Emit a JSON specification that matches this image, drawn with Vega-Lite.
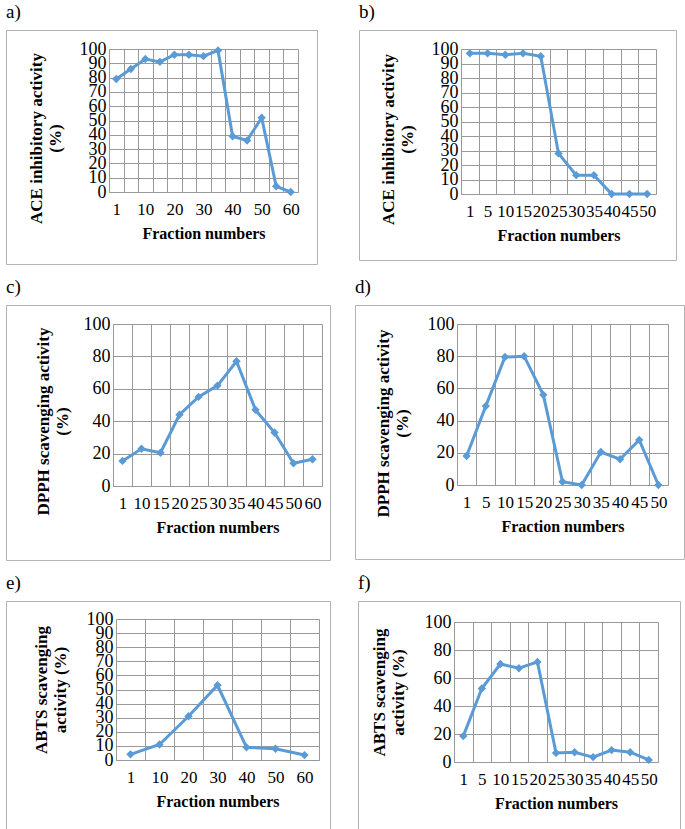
{
  "$schema": "https://vega.github.io/schema/vega-lite/v6.json",
  "padding": {"left": 5, "top": 2, "right": 0, "bottom": 0},
  "background": "white",
  "spacing": 12,
  "vconcat": [
    {
      "hconcat": [
        {
          "width": 311, "height": 234,
          "title": {"text": "a)"},
          "data": {"values": [
            {"f": "1", "v": 79}, {"f": "5", "v": 86}, {"f": "10", "v": 93}, {"f": "15", "v": 91},
            {"f": "20", "v": 96}, {"f": "25", "v": 96}, {"f": "30", "v": 95}, {"f": "35", "v": 99},
            {"f": "40", "v": 39}, {"f": "45", "v": 36}, {"f": "50", "v": 52}, {"f": "55", "v": 4}, {"f": "60", "v": 0}
          ]},
          "encoding": {
            "y": {"field": "v", "type": "quantitative",
              "scale": {"domain": [0, 100], "range": [162, 19], "nice": false},
              "axis": {"title": ["ACE inhibitory activity", "(%)"], "offset": -103, "titleY": 108,
                "values": [0, 10, 20, 30, 40, 50, 60, 70, 80, 90, 100]}}
          },
          "layer": [
            {"mark": {"type": "line", "color": "#5B9BD5", "strokeWidth": 3},
             "encoding": {"x": {"field": "f", "type": "ordinal", "sort": null,
              "scale": {"type": "band", "range": [103, 292], "paddingInner": 0, "paddingOuter": 0},
              "axis": {"title": "Fraction numbers", "offset": -72, "grid": false,
                "labelExpr": "indexof(['1','10','20','30','40','50','60'], datum.label) >= 0 ? datum.label : ''"}}}},
            {"mark": {"type": "point", "shape": "diamond", "filled": true, "color": "#5B9BD5", "size": 70, "opacity": 1},
             "encoding": {"x": {"field": "f", "type": "ordinal", "sort": null,
              "axis": {"orient": "top", "grid": true, "labels": false, "domain": false, "title": null, "offset": 0}}}}
          ],
          "resolve": {"axis": {"x": "independent"}}
        },
        {
          "width": 317, "height": 230,
          "title": {"text": "b)"},
          "data": {"values": [
            {"f": "1", "v": 97}, {"f": "5", "v": 97}, {"f": "10", "v": 96}, {"f": "15", "v": 97},
            {"f": "20", "v": 95}, {"f": "25", "v": 28}, {"f": "30", "v": 13}, {"f": "35", "v": 13},
            {"f": "40", "v": 0}, {"f": "45", "v": 0}, {"f": "50", "v": 0}
          ]},
          "encoding": {
            "y": {"field": "v", "type": "quantitative",
              "scale": {"domain": [0, 100], "range": [164, 19], "nice": false},
              "axis": {"title": ["ACE inhibitory activity", "(%)"], "offset": -102, "titleY": 109,
                "values": [0, 10, 20, 30, 40, 50, 60, 70, 80, 90, 100]}}
          },
          "layer": [
            {"mark": {"type": "line", "color": "#5B9BD5", "strokeWidth": 3},
             "encoding": {"x": {"field": "f", "type": "ordinal", "sort": null,
              "scale": {"type": "band", "range": [102, 297], "paddingInner": 0, "paddingOuter": 0},
              "axis": {"title": "Fraction numbers", "offset": -66, "grid": false}}}},
            {"mark": {"type": "point", "shape": "diamond", "filled": true, "color": "#5B9BD5", "size": 70, "opacity": 1},
             "encoding": {"x": {"field": "f", "type": "ordinal", "sort": null,
              "axis": {"orient": "top", "grid": true, "labels": false, "domain": false, "title": null, "offset": 0}}}}
          ],
          "resolve": {"axis": {"x": "independent"}}
        }
      ],
      "spacing": 40
    },
    {
      "hconcat": [
        {
          "width": 324, "height": 255,
          "title": {"text": "c)"},
          "data": {"values": [
            {"f": "1", "v": 15.5}, {"f": "10", "v": 23}, {"f": "15", "v": 20.5}, {"f": "20", "v": 44},
            {"f": "25", "v": 55}, {"f": "30", "v": 62}, {"f": "35", "v": 77}, {"f": "40", "v": 47},
            {"f": "45", "v": 33}, {"f": "50", "v": 14}, {"f": "60", "v": 16.5}
          ]},
          "encoding": {
            "y": {"field": "v", "type": "quantitative",
              "scale": {"domain": [0, 100], "range": [181, 19], "nice": false},
              "axis": {"title": ["DPPH scavenging activity", "(%)"], "offset": -107, "titleY": 116, "titlePadding": 12,
                "values": [0, 20, 40, 60, 80, 100]}}
          },
          "layer": [
            {"mark": {"type": "line", "color": "#5B9BD5", "strokeWidth": 3},
             "encoding": {"x": {"field": "f", "type": "ordinal", "sort": null,
              "scale": {"type": "band", "range": [107, 316], "paddingInner": 0, "paddingOuter": 0},
              "axis": {"title": "Fraction numbers", "offset": -74, "grid": false}}}},
            {"mark": {"type": "point", "shape": "diamond", "filled": true, "color": "#5B9BD5", "size": 70, "opacity": 1},
             "encoding": {"x": {"field": "f", "type": "ordinal", "sort": null,
              "axis": {"orient": "top", "grid": true, "labels": false, "domain": false, "title": null, "offset": 0}}}}
          ],
          "resolve": {"axis": {"x": "independent"}}
        },
        {
          "width": 329, "height": 254,
          "title": {"text": "d)"},
          "data": {"values": [
            {"f": "1", "v": 18}, {"f": "5", "v": 49}, {"f": "10", "v": 79.5}, {"f": "15", "v": 80},
            {"f": "20", "v": 56}, {"f": "25", "v": 2}, {"f": "30", "v": 0}, {"f": "35", "v": 20.5},
            {"f": "40", "v": 16}, {"f": "45", "v": 28}, {"f": "50", "v": 0}
          ]},
          "encoding": {
            "y": {"field": "v", "type": "quantitative",
              "scale": {"domain": [0, 100], "range": [180, 19], "nice": false},
              "axis": {"title": ["DPPH scavenging activity", "(%)"], "offset": -102, "titleY": 118, "titlePadding": 16,
                "values": [0, 20, 40, 60, 80, 100]}}
          },
          "layer": [
            {"mark": {"type": "line", "color": "#5B9BD5", "strokeWidth": 3},
             "encoding": {"x": {"field": "f", "type": "ordinal", "sort": null,
              "scale": {"type": "band", "range": [102, 313], "paddingInner": 0, "paddingOuter": 0},
              "axis": {"title": "Fraction numbers", "offset": -74, "grid": false}}}},
            {"mark": {"type": "point", "shape": "diamond", "filled": true, "color": "#5B9BD5", "size": 70, "opacity": 1},
             "encoding": {"x": {"field": "f", "type": "ordinal", "sort": null,
              "axis": {"orient": "top", "grid": true, "labels": false, "domain": false, "title": null, "offset": 0}}}}
          ],
          "resolve": {"axis": {"x": "independent"}}
        }
      ],
      "spacing": 23
    },
    {
      "hconcat": [
        {
          "width": 324, "height": 231,
          "title": {"text": "e)"},
          "data": {"values": [
            {"f": "1", "v": 4}, {"f": "10", "v": 11}, {"f": "20", "v": 31}, {"f": "30", "v": 53},
            {"f": "40", "v": 9}, {"f": "50", "v": 8}, {"f": "60", "v": 3.5}
          ]},
          "encoding": {
            "y": {"field": "v", "type": "quantitative",
              "scale": {"domain": [0, 100], "range": [159, 18], "nice": false},
              "axis": {"title": ["ABTS scavenging", "activity (%)"], "offset": -110, "titlePadding": 17,
                "values": [0, 10, 20, 30, 40, 50, 60, 70, 80, 90, 100]}}
          },
          "layer": [
            {"mark": {"type": "line", "color": "#5B9BD5", "strokeWidth": 3},
             "encoding": {"x": {"field": "f", "type": "ordinal", "sort": null,
              "scale": {"type": "band", "range": [110, 313], "paddingInner": 0, "paddingOuter": 0},
              "axis": {"title": "Fraction numbers", "offset": -72, "grid": false}}}},
            {"mark": {"type": "point", "shape": "diamond", "filled": true, "color": "#5B9BD5", "size": 70, "opacity": 1},
             "encoding": {"x": {"field": "f", "type": "ordinal", "sort": null,
              "axis": {"orient": "top", "grid": true, "labels": false, "domain": false, "title": null, "offset": 0}}}}
          ],
          "resolve": {"axis": {"x": "independent"}}
        },
        {
          "width": 322, "height": 230,
          "title": {"text": "f)"},
          "data": {"values": [
            {"f": "1", "v": 18.5}, {"f": "5", "v": 52.5}, {"f": "10", "v": 70}, {"f": "15", "v": 67},
            {"f": "20", "v": 71.5}, {"f": "25", "v": 6.5}, {"f": "30", "v": 7}, {"f": "35", "v": 3.5},
            {"f": "40", "v": 8.5}, {"f": "45", "v": 7}, {"f": "50", "v": 1.5}
          ]},
          "encoding": {
            "y": {"field": "v", "type": "quantitative",
              "scale": {"domain": [0, 100], "range": [161, 21], "nice": false},
              "axis": {"title": ["ABTS scavenging", "activity (%)"], "offset": -96, "titlePadding": 17,
                "values": [0, 20, 40, 60, 80, 100]}}
          },
          "layer": [
            {"mark": {"type": "line", "color": "#5B9BD5", "strokeWidth": 3},
             "encoding": {"x": {"field": "f", "type": "ordinal", "sort": null,
              "scale": {"type": "band", "range": [96, 300], "paddingInner": 0, "paddingOuter": 0},
              "axis": {"title": "Fraction numbers", "offset": -69, "grid": false}}}},
            {"mark": {"type": "point", "shape": "diamond", "filled": true, "color": "#5B9BD5", "size": 70, "opacity": 1},
             "encoding": {"x": {"field": "f", "type": "ordinal", "sort": null,
              "axis": {"orient": "top", "grid": true, "labels": false, "domain": false, "title": null, "offset": 0}}}}
          ],
          "resolve": {"axis": {"x": "independent"}}
        }
      ],
      "spacing": 26
    }
  ],
  "config": {
    "view": {"stroke": "#b3b3b3", "strokeWidth": 1, "fill": "white"},
    "title": {"font": "Liberation Serif", "fontSize": 19, "fontWeight": "normal", "color": "black",
      "anchor": "start", "frame": "group", "offset": 8},
    "axis": {
      "labelFont": "Liberation Serif", "labelColor": "black",
      "titleFont": "Liberation Serif", "titleFontWeight": "bold", "titleColor": "black",
      "domainColor": "#999999", "gridColor": "#999999", "gridOpacity": 1, "gridWidth": 1, "domainWidth": 1,
      "ticks": false, "grid": true, "labelOverlap": false, "labelFlush": false
    },
    "axisX": {"tickBand": "extent", "labelAngle": 0, "labelPadding": 9, "titlePadding": 8, "labelFontSize": 17, "titleFontSize": 16},
    "axisY": {"labelPadding": 3, "titlePadding": 15, "labelFontSize": 18, "titleFontSize": 17}
  }
}
